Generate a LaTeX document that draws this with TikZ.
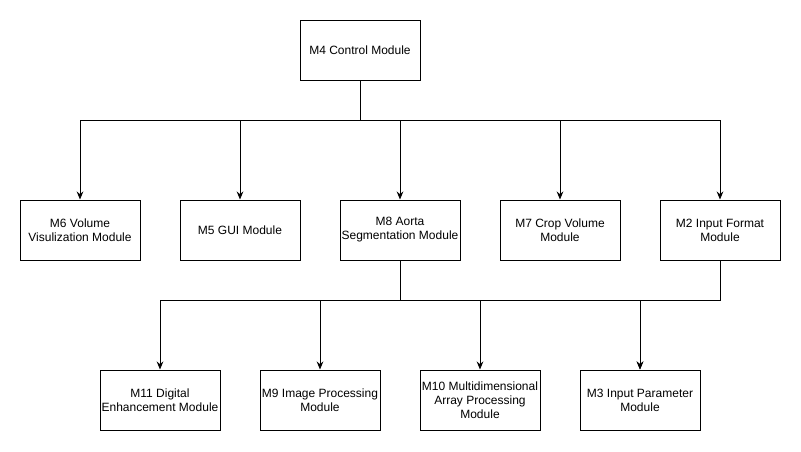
\documentclass[tikz,border=0pt]{standalone}
\usepackage{fontspec}
\setmainfont{Liberation Sans}
\usetikzlibrary{arrows.meta}
\begin{document}
\begin{tikzpicture}[x=0.75pt,y=-0.75pt,
  mod/.style={draw=black,line width=0.75pt,minimum width=90pt,minimum height=45pt,align=center,font=\fontsize{9}{10.5}\selectfont,inner sep=1pt},
  conn/.style={line width=0.75pt,-{Stealth[length=6pt,width=5pt]}}]
\useasboundingbox (0,0) rectangle (801,451);
\node[mod] (m4) at (360,50) {M4 Control Module};
\node[mod] (m6) at (80,230) {M6 Volume\\Visulization Module};
\node[mod] (m5) at (240,230) {M5 GUI Module};
\node[mod] (m8) at (400,230) {M8 Aorta\\Segmentation Module};
\node[mod] (m7) at (560,230) {M7 Crop Volume\\Module};
\node[mod] (m2) at (720,230) {M2 Input Format\\Module};
\node[mod] (m11) at (160,400) {M11 Digital\\Enhancement Module};
\node[mod] (m9) at (320,400) {M9 Image Processing\\Module};
\node[mod] (m10) at (480,400) {M10 Multidimensional\\Array Processing\\Module};
\node[mod] (m3) at (640,400) {M3 Input Parameter\\Module};
\coordinate (t1) at (360,120);
\coordinate (t2) at (400,300);
\coordinate (t3) at (720,300);
\foreach \c in {m6,m5,m8,m7,m2}
  \draw[conn] (m4.south) -- (t1) -| (\c.north);
\foreach \c in {m11,m9,m10,m3}
  \draw[conn] (m8.south) -- (t2) -| (\c.north);
\draw[conn] (m2.south) -- (t3) -| (m3.north);
\end{tikzpicture}
\end{document}
